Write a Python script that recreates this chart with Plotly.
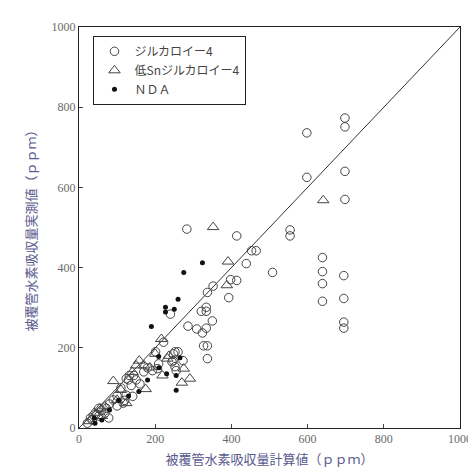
import plotly.graph_objects as go

# ジルカロイ-4 (open circles)
zr_x = [598, 698, 698, 598, 698, 698, 554, 554, 508, 465, 453, 639, 639, 639, 639, 695, 695, 695, 695,
        283, 414, 439, 414, 352, 393, 337, 334, 334, 321, 240, 286, 309, 350, 324, 334, 327, 337, 337,
        252, 260, 247, 252, 255, 273, 244, 222, 248, 209, 206, 193, 201, 132, 137, 124, 116, 120, 141,
        124, 144, 150, 170, 180, 160, 100, 90, 80, 22, 35, 52, 60, 72, 52, 68, 78, 30, 45, 100, 110, 130, 398]
zr_y = [736, 773, 751, 625, 640, 570, 494, 479, 388, 442, 442, 425, 390, 360, 316, 380, 323, 264, 249,
        496, 479, 410, 368, 354, 325, 338, 301, 291, 291, 284, 254, 247, 267, 237, 249, 205, 205, 173,
        190, 190, 168, 153, 143, 168, 165, 214, 185, 160, 148, 143, 190, 131, 106, 82, 62, 69, 79,
        123, 131, 120, 140, 150, 110, 80, 70, 60, 12, 20, 30, 44, 49, 49, 37, 25, 25, 35, 55, 100, 120, 370]

# 低Snジルカロイ-4 (open triangles)
lsn_x = [641, 352, 391, 388, 216, 275, 291, 270, 186, 158, 171, 90, 175, 124, 150, 236, 219,
         27, 55, 68, 40, 100, 140, 200, 110, 60, 232]
lsn_y = [568, 501, 415, 356, 222, 148, 123, 113, 151, 168, 156, 117, 97, 62, 156, 180, 131,
         17, 49, 54, 38, 70, 140, 185, 95, 30, 173]

# NDA (filled dots)
nda_x = [324, 275, 260, 227, 227, 250, 190, 209, 265, 255, 255, 157, 104, 40, 42, 60, 80, 130, 180, 210, 230]
nda_y = [412, 388, 321, 301, 289, 296, 253, 178, 175, 131, 94, 91, 69, 25, 12, 20, 45, 80, 120, 150, 135]

# 1:1 line
line_x = [0, 1000]
line_y = [0, 1000]

tick_vals = [0, 200, 400, 600, 800, 1000]

fig = go.Figure()
fig.add_trace(go.Scatter(x=line_x, y=line_y, mode="lines", line=dict(color="#333333", width=1),
                         showlegend=False, hoverinfo="skip"))
fig.add_trace(go.Scatter(x=zr_x, y=zr_y, mode="markers", name="ジルカロイー4",
                         marker=dict(symbol="circle-open", size=8.5, color="#444444", line=dict(width=1))))
fig.add_trace(go.Scatter(x=lsn_x, y=lsn_y, mode="markers", name="低Snジルカロイー4",
                         marker=dict(symbol="triangle-up-open", size=10, color="#444444", line=dict(width=1))))
fig.add_trace(go.Scatter(x=nda_x, y=nda_y, mode="markers", name="ＮＤＡ",
                         marker=dict(symbol="circle", size=5, color="#111111")))

tick_font = dict(family="Liberation Serif, DejaVu Serif, serif", size=12, color="#6a6a6a")
title_font = dict(family="Noto Sans CJK JP", size=13, color="#5a5a8e")

fig.update_layout(
    width=476, height=473,
    margin=dict(l=71, r=14, t=15, b=53),
    paper_bgcolor="white", plot_bgcolor="white",
    font=dict(family="Noto Sans CJK JP", color="#333333"),
    legend=dict(x=0.038, y=0.978, xanchor="left", yanchor="top",
                bordercolor="#222222", borderwidth=1, bgcolor="white",
                font=dict(family="Noto Sans CJK JP", size=12, color="#444444"),
                itemwidth=30, tracegroupgap=0),
    xaxis=dict(range=[0, 1000], tickvals=tick_vals, ticks="inside", ticklen=4,
               showline=True, linecolor="#222222", linewidth=1, mirror=True,
               showgrid=False, zeroline=False, tickfont=tick_font,
               title=dict(text="被覆管水素吸収量計算値（ｐｐｍ）", font=title_font, standoff=9)),
    yaxis=dict(range=[0, 1000], tickvals=tick_vals, ticks="inside", ticklen=4,
               showline=True, linecolor="#222222", linewidth=1, mirror=True,
               showgrid=False, zeroline=False, tickfont=tick_font,
               title=dict(text="被覆管水素吸収量実測値（ｐｐｍ）", font=title_font, standoff=12)),
)

fig.write_html("out.html")
